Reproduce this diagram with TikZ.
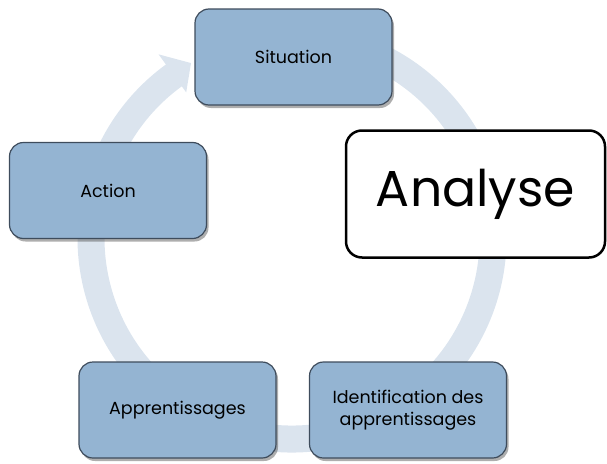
\documentclass[tikz,border=0pt]{standalone}
\usepackage{fontspec}
\setmainfont{Poppins}
\usetikzlibrary{shadows,calc}
\definecolor{boxfill}{RGB}{148,180,210}
\definecolor{boxborder}{RGB}{62,76,92}
\definecolor{ringcol}{RGB}{219,228,238}
\tikzset{
  stepbox/.style={draw=boxborder, line width=1.2pt, fill=boxfill, rounded corners=14pt,
    minimum width=197pt, minimum height=96pt, align=center, inner sep=2pt,
    font=\fontsize{17.5}{22}\selectfont,
    drop shadow={shadow xshift=2pt, shadow yshift=-3pt, opacity=0.45, fill=black!70}},
  bigbox/.style={draw=black, line width=2.5pt, fill=white, rounded corners=16pt,
    minimum width=259pt, minimum height=127pt, font=\fontsize{50.5}{56}\selectfont},
  ring/.style={draw=ringcol, line width=27pt},
  ringhead/.style={fill=ringcol, draw=none}
}
\begin{document}
\begin{tikzpicture}[x=1pt, y=-1pt]
\useasboundingbox (0,0) rectangle (607,463);
\coordinate (c) at (292,238);
% cycle ring
\draw[ring] (c) ++(255:201) arc[start angle=255, end angle=594.5, radius=201];
\fill[ringhead] ($(c)+(234:227)$) -- ($(c)+(240:202)$) -- ($(c)+(234:180)$) -- cycle;
% nodes
\node[stepbox] (sit) at (293.5,57) {Situation};
\node[stepbox] (act) at (108,190.5) {Action};
\node[stepbox] (app) at (177.5,410) {Apprentissages};
\node[stepbox] (ide) at (408,410) {Identification des\\apprentissages};
\node[bigbox] (ana) at (475.5,194) {Analyse};
\end{tikzpicture}
\end{document}
